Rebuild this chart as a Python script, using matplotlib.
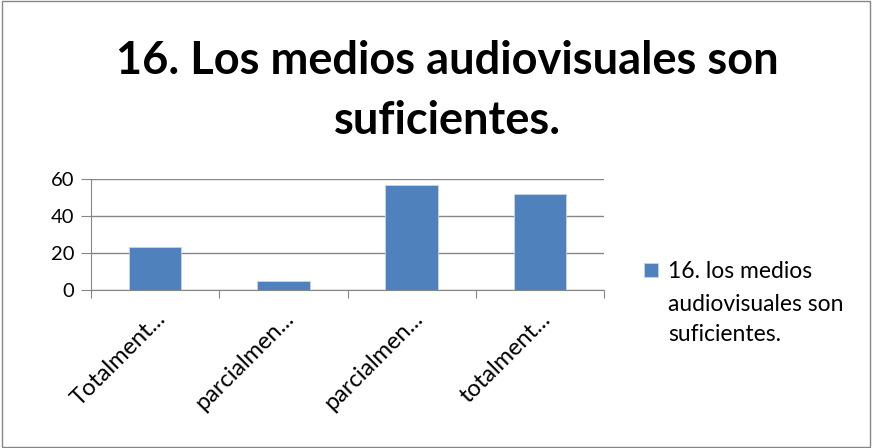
import matplotlib.pyplot as plt
from matplotlib.patches import Rectangle

categories = ['Totalment...', 'parcialmen...', 'parcialmen...', 'totalment...']
values = [23, 5, 57, 52]
series_lines = ['16. los medios', 'audiovisuales son', 'suficientes.']
title = '16. Los medios audiovisuales son\nsuficientes.'

plt.rcParams['font.family'] = ['Lato', 'DejaVu Sans']

fig = plt.figure(figsize=(8.72, 4.48), dpi=100)
ax = fig.add_axes([91 / 872, 1 - 290 / 448, 513 / 872, 111 / 448])

bars = ax.bar(range(len(values)), values, width=0.41, color='#4f81bd',
              edgecolor='#c6d4e8', linewidth=0.6, zorder=3)
ax.set_xlim(-0.5, len(values) - 0.5)
ax.set_ylim(0, 60)
ax.set_yticks([0, 20, 40, 60])
ax.yaxis.grid(True, color='#868686', linewidth=1, zorder=0)

for s in ['top', 'right']:
    ax.spines[s].set_visible(False)
ax.spines['left'].set_color('#868686')
ax.spines['bottom'].set_color('#868686')

ax.set_xticks([i - 0.5 for i in range(len(values) + 1)], minor=False)
ax.set_xticklabels([])
ax.tick_params(axis='x', length=6, color='#868686', direction='out')
ax.set_xticks(range(len(values)), minor=True)
ax.set_xticklabels(categories, minor=True, rotation=45, ha='right',
                   rotation_mode='anchor', fontsize=17)
ax.tick_params(axis='x', which='minor', length=0, pad=13)
ax.tick_params(axis='y', length=7, color='#868686', labelsize=14.5, pad=5)

fig.text(0.513, 1 - 91 / 448, title, ha='center', va='center',
         fontsize=32.5, fontweight='bold', linespacing=1.5)

leg = fig.legend(handles=[bars], labels=[series_lines[0]], loc='upper left',
                 bbox_to_anchor=(644 / 872, 1 - 261 / 448), frameon=False,
                 fontsize=16.5, handlelength=0.6, handleheight=0.6,
                 handletextpad=0.45, borderaxespad=0, borderpad=0)
fig.canvas.draw()
first = leg.get_texts()[0].get_window_extent()
fig.text(first.x0 / 872, (first.y1 - 33) / 448, '\n'.join(series_lines[1:]),
         ha='left', va='top', fontsize=16.5, linespacing=1.55)

fig.patches.append(Rectangle((0.002, 0.002), 0.996, 0.995, transform=fig.transFigure,
                             fill=False, edgecolor='#868686', linewidth=1))

fig.savefig('out.png', dpi=100)
